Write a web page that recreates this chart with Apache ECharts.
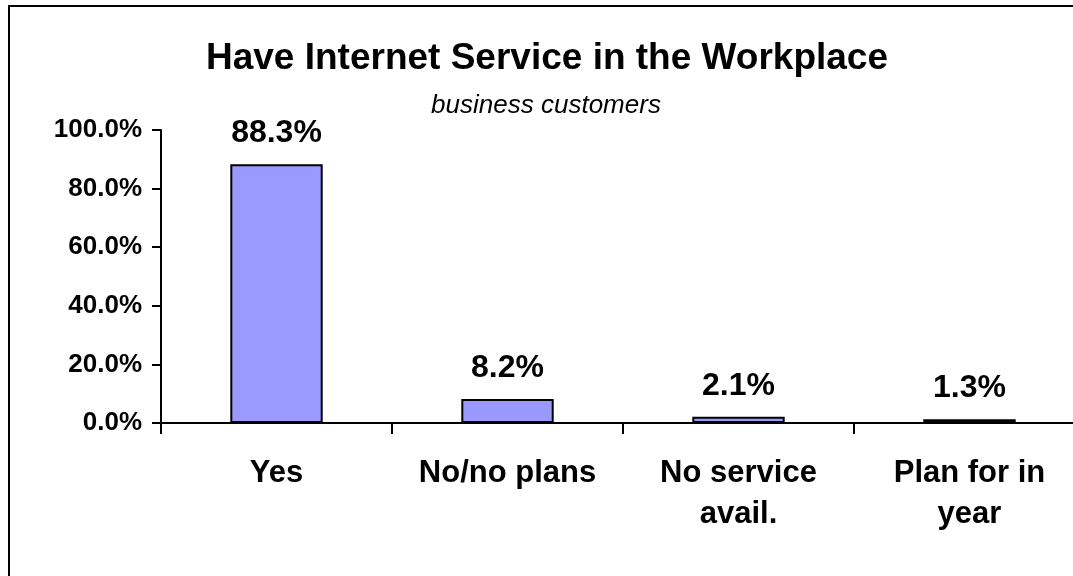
<!DOCTYPE html>
<html>
<head>
<meta charset="utf-8">
<script src="https://cdn.jsdelivr.net/npm/echarts@6/dist/echarts.min.js"></script>
<style>
  html, body { margin: 0; padding: 0; background: #ffffff; }
  #chart { width: 1073px; height: 576px; }
</style>
</head>
<body>
<div id="chart"></div>
<script>
// Survey results: internet service in the workplace (business customers)
const categories = ['Yes', 'No/no plans', 'No service\navail.', 'Plan for in\nyear'];
const shares = [88.3, 8.2, 2.1, 1.3];
const yTicks = { min: 0, max: 100, step: 20 };

const FONT = '"Liberation Sans", Arial, sans-serif';

const chart = echarts.init(document.getElementById('chart'), null, { renderer: 'canvas' });

chart.setOption({
  backgroundColor: '#ffffff',
  animation: false,
  title: [
    {
      text: 'Have Internet Service in the Workplace',
      left: 542,
      top: 35,
      textAlign: 'center',
      textStyle: { fontFamily: FONT, fontWeight: 'bold', fontSize: 37, color: '#000' }
    },
    {
      text: 'business customers',
      left: 541,
      top: 88,
      textAlign: 'center',
      textStyle: { fontFamily: FONT, fontStyle: 'italic', fontWeight: 'normal', fontSize: 26, color: '#000' }
    }
  ],
  graphic: [
    {
      type: 'rect',
      shape: { x: 9, y: 6, width: 1200, height: 700 },
      style: { fill: 'none', stroke: '#000', lineWidth: 2 },
      silent: true
    }
  ],
  // plot area runs past the right edge of the canvas
  grid: { left: 161, top: 130, width: 924, height: 293, containLabel: false, outerBoundsMode: 'none' },
  xAxis: {
    type: 'category',
    data: categories,
    axisLine: { show: true, lineStyle: { color: '#000', width: 2 } },
    axisTick: { show: true, length: 11, lineStyle: { color: '#000', width: 2 } },
    axisLabel: {
      interval: 0,
      margin: 30,
      color: '#000',
      fontFamily: FONT,
      fontWeight: 'bold',
      fontSize: 31,
      lineHeight: 41
    },
    splitLine: { show: false }
  },
  yAxis: {
    type: 'value',
    min: yTicks.min,
    max: yTicks.max,
    interval: yTicks.step,
    axisLine: { show: true, lineStyle: { color: '#000', width: 2 } },
    axisTick: { show: true, length: 9, lineStyle: { color: '#000', width: 2 } },
    axisLabel: {
      margin: 19,
      color: '#000',
      fontFamily: FONT,
      fontWeight: 'bold',
      fontSize: 26,
      formatter: v => v.toFixed(1) + '%'
    },
    splitLine: { show: false }
  },
  series: [
    {
      type: 'bar',
      data: shares,
      barWidth: '40%',
      itemStyle: { color: '#9999ff', borderColor: '#000', borderWidth: 2 },
      label: {
        show: true,
        position: 'top',
        distance: 15,
        color: '#000',
        fontFamily: FONT,
        fontWeight: 'bold',
        fontSize: 32,
        formatter: p => p.value.toFixed(1) + '%'
      }
    }
  ]
});
</script>
</body>
</html>
